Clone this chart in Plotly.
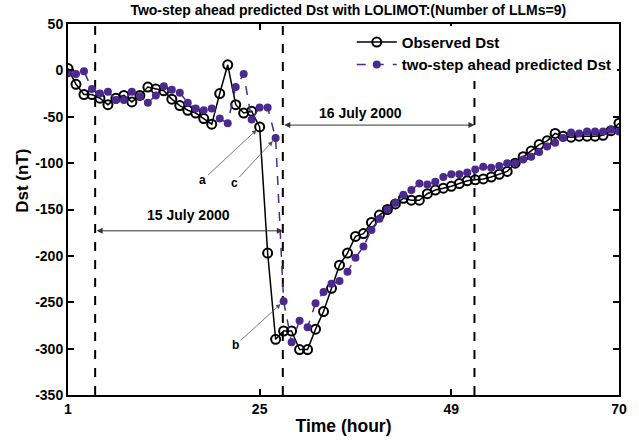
import plotly.graph_objects as go

hours = list(range(1, 71))
observed = [2, -15, -26, -26, -30, -37, -30, -27, -34, -27,
            -18, -20, -22, -31, -38, -43, -46, -52, -58, -25,
            6, -37, -46, -44, -61, -197, -290, -281, -281, -301,
            -301, -279, -260, -235, -210, -197, -179, -176, -164, -156,
            -150, -144, -138, -140, -140, -133, -129, -127, -125, -122,
            -119, -118, -117, -115, -112, -109, -100, -93, -87, -80,
            -76, -68, -71, -72, -71, -71, -71, -70, -65, -57]
predicted = [-3, -4, -1, -20, -25, -23, -32, -32, -23, -28,
             -35, -27, -17, -21, -24, -35, -41, -43, -41, -52,
             -57, -18, -4, -53, -40, -40, -73, -249, -293, -270,
             -277, -251, -239, -230, -227, -217, -202, -190, -172, -160,
             -150, -143, -134, -129, -122, -123, -120, -115, -112, -112,
             -110, -107, -104, -105, -103, -100, -100, -96, -93, -88,
             -82, -78, -73, -67, -68, -66, -66, -66, -64, -66]
x_ticks = [1, 25, 49, 70]
y_ticks = [50, 0, -50, -100, -150, -200, -250, -300, -350]
day_bounds = [4.4, 27.9, 51.9]

FONT = "Liberation Sans, Arial, sans-serif"
PURPLE = "#4a2a8c"

fig = go.Figure()
fig.add_trace(go.Scatter(
    x=hours, y=observed, mode="lines+markers", name="Observed Dst",
    line=dict(color="black", width=1.5),
    marker=dict(symbol="circle-open", size=9, color="black", line=dict(width=2)),
))
fig.add_trace(go.Scatter(
    x=hours, y=predicted, mode="lines+markers", name="two-step ahead predicted Dst",
    line=dict(color=PURPLE, width=1.5, dash="dash"),
    marker=dict(symbol="circle", size=8, color=PURPLE),
))

for xb in day_bounds:
    fig.add_shape(type="line", xref="x", yref="paper", x0=xb, x1=xb, y0=0, y1=1,
                  line=dict(color="black", width=2, dash="dash"), layer="below")

# double-headed day arrows
fig.add_annotation(x=day_bounds[1], y=-173, ax=day_bounds[0], ay=-173,
                   xref="x", yref="y", axref="x", ayref="y", text="",
                   showarrow=True, arrowhead=2, arrowside="end+start",
                   arrowsize=1.2, arrowwidth=1, arrowcolor="#333")
fig.add_annotation(x=day_bounds[2], y=-59, ax=day_bounds[1], ay=-59,
                   xref="x", yref="y", axref="x", ayref="y", text="",
                   showarrow=True, arrowhead=2, arrowside="end+start",
                   arrowsize=1.2, arrowwidth=1, arrowcolor="#333")
fig.add_annotation(x=16.1, y=-156, text="15 July 2000", showarrow=False,
                   font=dict(size=14, family=FONT, weight="bold", color="black"))
fig.add_annotation(x=37.6, y=-46, text="16 July 2000", showarrow=False,
                   font=dict(size=14, family=FONT, weight="bold", color="black"))

# labelled pointers
for txt, tx, ty, hx, hy in [("a", 17.9, -118, 25, -61),
                             ("c", 21.8, -121, 27, -73),
                             ("b", 22.0, -296, 28, -249)]:
    fig.add_annotation(x=hx, y=hy, ax=tx, ay=ty, xref="x", yref="y",
                       axref="x", ayref="y", text=txt, showarrow=True,
                       arrowhead=2, arrowsize=1.2, arrowwidth=0.8,
                       arrowcolor="#555", standoff=4,
                       font=dict(size=12, family=FONT, weight="bold", color="black"))

# y-axis title placed like the reference (above centre)
fig.add_annotation(xref="paper", yref="paper", x=-0.083, y=0.578,
                   text="Dst (nT)", textangle=-90, showarrow=False,
                   xanchor="center", yanchor="middle",
                   font=dict(size=17, family=FONT, weight="bold", color="black"))

fig.update_layout(
    width=639, height=445,
    margin=dict(l=68, r=14, t=24, b=47),
    paper_bgcolor="white", plot_bgcolor="white",
    font=dict(family=FONT, color="black"),
    title=dict(text="Two-step ahead predicted Dst with LOLIMOT:(Number of LLMs=9)",
               x=0.545, xanchor="center", y=0.978, yanchor="middle",
               font=dict(size=14, family=FONT, weight="bold")),
    showlegend=True,
    legend=dict(x=0.515, y=0.995, xanchor="left", yanchor="top",
                bgcolor="white", borderwidth=0,
                font=dict(size=15, family=FONT, weight="bold"),
                tracegroupgap=0, itemwidth=40),
)
fig.update_xaxes(range=[1, 70], tickvals=x_ticks, ticktext=[str(v) for v in x_ticks],
                 showgrid=False, zeroline=False, showline=True, linecolor="black",
                 linewidth=2, mirror="ticks", ticks="inside", ticklen=6, tickwidth=1.5,
                 tickcolor="black",
                 tickfont=dict(size=14, family=FONT, weight="bold"),
                 title=dict(text="Time (hour)", standoff=4,
                            font=dict(size=17.5, family=FONT, weight="bold")))
fig.update_yaxes(range=[-350, 50], tickvals=y_ticks, ticktext=[str(v) for v in y_ticks],
                 showgrid=False, zeroline=False, showline=True, linecolor="black",
                 linewidth=2, mirror="ticks", ticks="inside", ticklen=6, tickwidth=1.5,
                 tickcolor="black",
                 tickfont=dict(size=14, family=FONT, weight="bold"))

fig.write_html("out.html")
